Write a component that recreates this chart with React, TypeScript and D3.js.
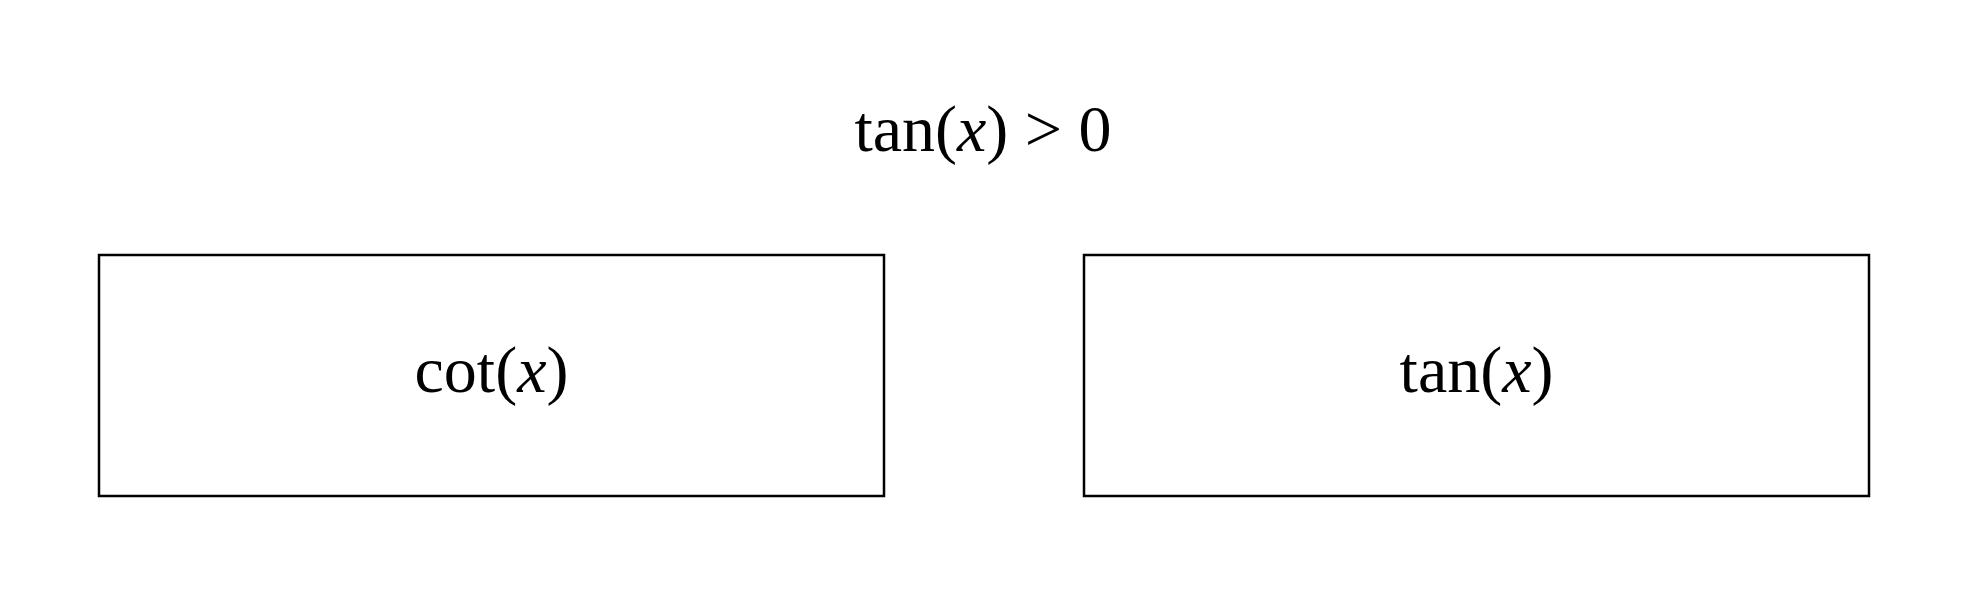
import * as d3 from 'd3';

const title = 'tan(x) > 0';
const boxes = [
  { fn: 'cot', x0: 0, x1: 1 },
  { fn: 'tan', x0: 2, x1: 3 },
];

const W = 1969;
const H = 596;

export default function App() {
  // map box slots to pixels: 0→99, 1→884, 2→1084, 3→1869
  const x = d3.scaleLinear().domain([0, 1]).range([99, 884]);
  const gap = 1084 - 884;
  const px = (v: number) => (v < 2 ? x(v) : x(v - 2) + 785 + gap);
  const font = "'Liberation Serif', 'DejaVu Serif', serif";
  return (
    <svg width={W} height={H} style={{ position: 'absolute', left: 0, top: 0 }}>
      <rect width={W} height={H} fill="#fff" />
      <text x={983} y={151} textAnchor="middle" fontFamily={font} fontSize={66}>
        tan(<tspan fontStyle="italic">x</tspan>) &gt; 0
      </text>
      {boxes.map((b) => (
        <g key={b.fn}>
          <rect x={px(b.x0)} y={255} width={px(b.x1) - px(b.x0)} height={241}
            fill="none" stroke="#000" strokeWidth={2.5} />
          <text x={(px(b.x0) + px(b.x1)) / 2} y={392} textAnchor="middle" fontFamily={font} fontSize={66}>
            {b.fn}(<tspan fontStyle="italic">x</tspan>)
          </text>
        </g>
      ))}
    </svg>
  );
}
